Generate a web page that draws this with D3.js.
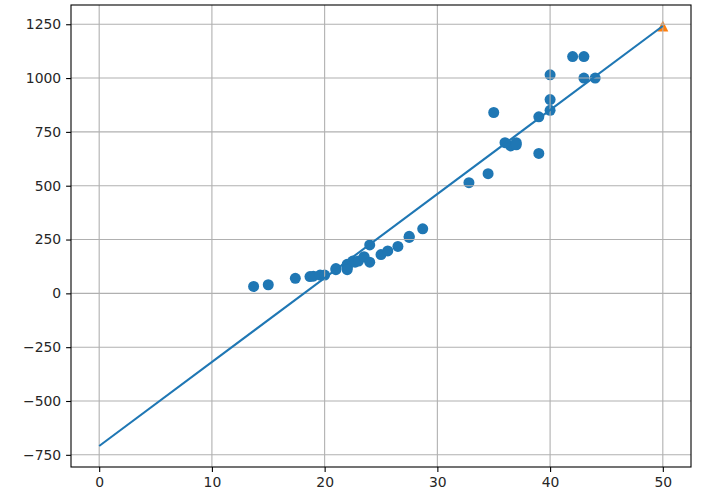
<!DOCTYPE html>
<html>
<head>
<meta charset="utf-8">
<script src="https://cdn.jsdelivr.net/npm/d3@7"></script>
<style>
  html, body { margin: 0; padding: 0; background: #fff; }
  svg { display: block; font-family: "DejaVu Sans", sans-serif; }
</style>
</head>
<body>
<svg id="chart" width="728" height="502"></svg>
<script>
// perch training set: length (cm) vs weight (g)
const trainLength = [13.7, 15.0, 17.4, 18.7, 19.0, 19.6, 20.0, 21.0, 21.0, 22.0, 22.0, 22.0, 22.0, 22.0,
    22.5, 22.7, 23.0, 23.5, 24.0, 24.0, 25.0, 25.6, 26.5, 27.5, 27.5, 28.7, 32.8, 34.5, 35.0, 36.5,
    36.0, 37.0, 37.0, 39.0, 39.0, 40.0, 40.0, 40.0, 42.0, 43.0, 43.0, 44.0];
const trainWeight = [32, 40, 70, 78, 80, 85, 85, 110, 115, 120, 120, 130, 135, 110,
    150, 145, 150, 170, 225, 145, 180, 197, 218, 260, 265, 300, 514, 556, 840, 685,
    700, 700, 690, 650, 820, 850, 900, 1015, 1100, 1000, 1100, 1000];

// fitted line endpoints and the predicted point
const lineX = [0, 50];
const lineY = [-709.02, 1241.84];
const predX = [50];
const predY = [1241.84];

const xTicks = [0, 10, 20, 30, 40, 50];
const yTicks = [-750, -500, -250, 0, 250, 500, 750, 1000, 1250];

const svg = d3.select("#chart");
const margin = { top: 5, right: 37, bottom: 35, left: 71 };
const width = 728 - margin.left - margin.right;
const height = 502 - margin.top - margin.bottom;

const blue = "#1f77b4";
const orange = "#ff7f0e";

// matplotlib style 5% padding
const xMin = 0, xMax = 50;
const yMin = d3.min([...trainWeight, ...lineY]);
const yMax = d3.max([...trainWeight, ...lineY, ...predY]);
const xPad = (xMax - xMin) * 0.05;
const yPad = (yMax - yMin) * 0.05;

const x = d3.scaleLinear().domain([xMin - xPad, xMax + xPad]).range([0, width]);
const y = d3.scaleLinear().domain([yMin - yPad, yMax + yPad]).range([height, 0]);

const g = svg.append("g").attr("transform", `translate(${margin.left},${margin.top})`);

// scatter points (below grid, like matplotlib)
g.append("g")
    .selectAll("circle")
    .data(trainLength.map((d, i) => ({ x: d, y: trainWeight[i] })))
    .enter().append("circle")
    .attr("cx", d => x(d.x))
    .attr("cy", d => y(d.y))
    .attr("r", 5.5)
    .attr("fill", blue);

// predicted point, triangle marker
g.append("g")
    .selectAll("path")
    .data(predX.map((d, i) => ({ x: d, y: predY[i] })))
    .enter().append("path")
    .attr("transform", d => `translate(${x(d.x)},${y(d.y)})`)
    .attr("d", "M0,-5.5L5.5,5.5L-5.5,5.5Z")
    .attr("fill", orange);

// grid
const grid = g.append("g").attr("stroke", "#b0b0b0").attr("stroke-width", 1.1);
grid.selectAll(".gx").data(xTicks).enter().append("line")
    .attr("x1", d => x(d)).attr("x2", d => x(d))
    .attr("y1", 0).attr("y2", height);
grid.selectAll(".gy").data(yTicks).enter().append("line")
    .attr("x1", 0).attr("x2", width)
    .attr("y1", d => y(d)).attr("y2", d => y(d));

// regression line
const line = d3.line().x(d => x(d[0])).y(d => y(d[1]));
g.append("path")
    .datum(lineX.map((d, i) => [d, lineY[i]]))
    .attr("d", line)
    .attr("fill", "none")
    .attr("stroke", blue)
    .attr("stroke-width", 2.1);

// axes
const fmt = d => d < 0 ? "\u2212" + Math.abs(d) : String(d);
const xAxis = g.append("g")
    .attr("transform", `translate(0,${height})`)
    .call(d3.axisBottom(x).tickValues(xTicks).tickFormat(fmt).tickSizeOuter(0).tickSize(4.9).tickPadding(4.9));
const yAxis = g.append("g")
    .call(d3.axisLeft(y).tickValues(yTicks).tickFormat(fmt).tickSizeOuter(0).tickSize(4.9).tickPadding(4.9));

[xAxis, yAxis].forEach(a => {
    a.select(".domain").remove();
    a.selectAll(".tick line").attr("stroke", "#000").attr("stroke-width", 1.1);
    a.selectAll(".tick text")
        .attr("fill", "#262626")
        .style("font-size", "13.9px")
        .style("font-family", "'DejaVu Sans', sans-serif");
});

// frame
g.append("rect")
    .attr("x", 0).attr("y", 0)
    .attr("width", width).attr("height", height)
    .attr("fill", "none")
    .attr("stroke", "#000")
    .attr("stroke-width", 1.1);
</script>
</body>
</html>
